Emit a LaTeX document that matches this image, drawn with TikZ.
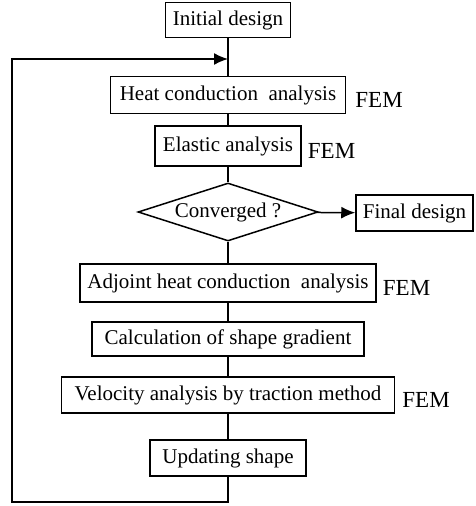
\documentclass[tikz,border=0pt]{standalone}
\usepackage{fontspec}
\setmainfont{Liberation Serif}
\usetikzlibrary{positioning,arrows.meta,shapes.geometric}

\begin{document}
\begin{tikzpicture}[
  x=1pt, y=-1pt,
  box/.style={draw, line width=1.5pt, minimum height=35pt, inner sep=2pt, font=\fontsize{21}{23}\selectfont},
  cond/.style={draw, diamond, aspect=3.1, line width=1.5pt, minimum width=180pt, minimum height=58pt, inner sep=0pt, font=\fontsize{21}{23}\selectfont},
  fem/.style={inner sep=2pt, yshift=-5pt, font=\fontsize{23}{25}\selectfont},
  link/.style={line width=1.5pt},
  flow/.style={line width=1.5pt, -{Latex[length=14pt,width=12pt]}}]
  \useasboundingbox (0,0) rectangle (475,506);
  % main chain
  \node[box, minimum width=125pt] (init) at (228,20) {Initial design};
  \coordinate (join) at (228,59);
  \node[box, minimum width=235pt, minimum height=37pt] (heat) at (228,95) {Heat conduction\ \ analysis};
  \node[box, minimum width=146pt, minimum height=40pt] (elastic) at (228,146) {Elastic analysis};
  \node[cond] (conv) at (228,212) {Converged ?};
  \node[box, minimum width=117pt, minimum height=36pt] (final) at (414.5,213) {Final design};
  \node[box, minimum width=296pt, minimum height=38pt] (adjoint) at (228,283) {Adjoint heat conduction\ \ analysis};
  \node[box, minimum width=272pt, minimum height=34pt] (grad) at (228,339) {Calculation of shape gradient};
  \node[box, minimum width=333pt, minimum height=36pt] (velo) at (228,395) {Velocity analysis by traction method};
  \node[box, minimum width=156pt, minimum height=36pt] (upd) at (228,458) {Updating shape};
  % FEM marks
  \node[fem, right=7pt of heat] (fem1) {FEM};
  \node[fem, right=4pt of elastic] (fem2) {FEM};
  \node[fem, right=4pt of adjoint] (fem3) {FEM};
  \node[fem, right=5pt of velo] (fem4) {FEM};
  % loop corners
  \coordinate (bot) at (228,502);
  \coordinate (botleft) at (12,502);
  \coordinate (topleft) at (12,59);
  % connectors
  \draw[link] (init) -- (join) -- (heat);
  \draw[link] (heat) -- (elastic);
  \draw[link] (elastic) -- (conv);
  \draw[flow] (conv) -- (final);
  \draw[link] (conv) -- (adjoint);
  \draw[link] (adjoint) -- (grad);
  \draw[link] (grad) -- (velo);
  \draw[link] (velo) -- (upd);
  \draw[flow] (upd) -- (bot) -- (botleft) -- (topleft) -- (join);
\end{tikzpicture}
\end{document}
